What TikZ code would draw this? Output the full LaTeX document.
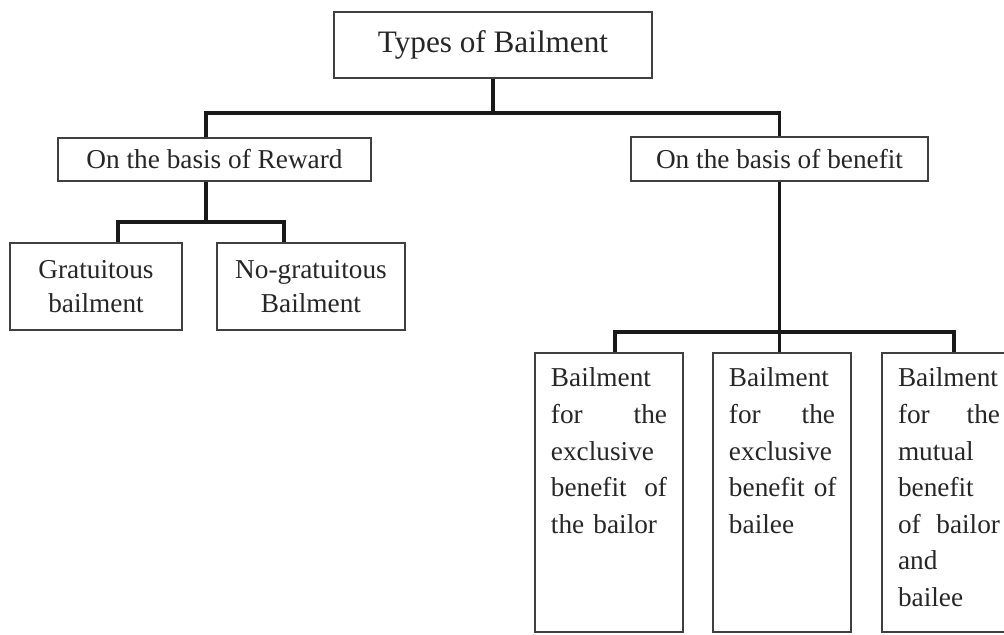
\documentclass[tikz,border=0pt]{standalone}
\usepackage{fontspec}
\setmainfont{Liberation Serif}
\usepackage{tikz}
\usetikzlibrary{positioning}
\tikzstyle{plain_box}=[rectangle, draw=black!75, line width=1.1pt, inner sep=0pt, align=center, text=black!85, font=\fontsize{19.4}{24}\selectfont]
\tikzstyle{tall_box}=[plain_box, align=left, inner xsep=0.4cm, inner ysep=0pt, text height=0.85cm, text depth=6.125cm, font=\fontsize{19.4}{26}\selectfont]
\tikzstyle{link_line}=[line width=2.4pt, black!90]

\begin{document}
\begin{tikzpicture}[x=0.025cm, y=-0.025cm]
    \useasboundingbox (0,0) rectangle (1004,634);

    \node[plain_box, minimum width=7.95cm, minimum height=1.65cm, font=\fontsize{22.2}{26}\selectfont] at (493, 45) (types) {Types of Bailment};
    \node[plain_box, minimum width=7.825cm, minimum height=1.075cm] at (214.5, 159.5) (reward) {On the basis of Reward};
    \node[plain_box, minimum width=7.425cm, minimum height=1.1cm] at (779.5, 159) (benefit) {On the basis of benefit};
    \node[plain_box, minimum width=4.3cm, minimum height=2.175cm] at (96, 286.5) (grat) {Gratuitous\\bailment};
    \node[plain_box, minimum width=4.7cm, minimum height=2.175cm] at (311, 286.5) (nograt) {No-gratuitous\\Bailment};
    \node[tall_box, text width=2.9cm] at (609, 492.5) (bailor) {Bailment\\for\hfill the\\exclusive\\benefit\hfill of\\the bailor};
    \node[tall_box, text width=2.65cm] at (782, 492.5) (bailee) {Bailment\\for\hfill the\\exclusive\\\mbox{benefit of}\\bailee};
    \node[tall_box, text width=2.55cm] at (949, 492.5) (mutual) {Bailment\\for\hfill the\\mutual\\benefit\\of\hfill bailor\\and\\bailee};

    \coordinate (topL) at (206, 113);
    \coordinate (rwdL) at (118, 222);
    \coordinate (rwdR) at (284, 222);
    \coordinate (bnfL) at (615, 332);
    \coordinate (bnfR) at (954, 332);

    \draw[link_line] (types.south) -- (types.south |- topL);
    \draw[link_line] (reward.north -| topL) -- (topL) -| (benefit.north);

    \draw[link_line] (reward.south -| topL) -- (topL |- rwdL);
    \draw[link_line] (grat.north -| rwdL) -- (rwdL) -- (rwdR) -- (nograt.north -| rwdR);

    \draw[link_line] (benefit.south) -- (benefit.south |- bailee.north);
    \draw[link_line] (bailor.north -| bnfL) -- (bnfL) -- (bnfR) -- (mutual.north -| bnfR);
\end{tikzpicture}
\end{document}
